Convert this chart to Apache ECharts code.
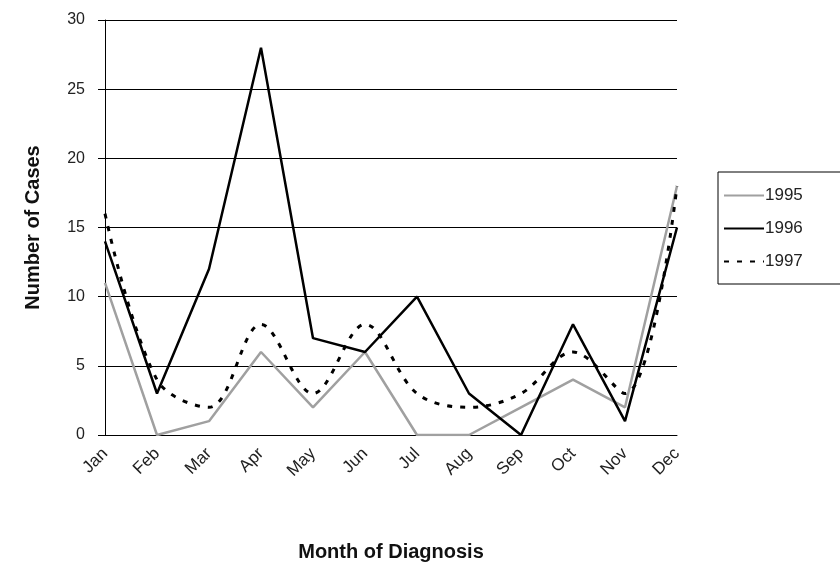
<!DOCTYPE html>
<html>
<head>
<meta charset="utf-8">
<script src="https://cdn.jsdelivr.net/npm/echarts@6/dist/echarts.min.js"></script>
<style>
  html, body { margin: 0; padding: 0; background: #fff; }
  #main { width: 840px; height: 574px; }
</style>
</head>
<body>
<div id="main"></div>
<script>
// data
var months = ['Jan', 'Feb', 'Mar', 'Apr', 'May', 'Jun', 'Jul', 'Aug', 'Sep', 'Oct', 'Nov', 'Dec'];
var cases1995 = [11, 0, 1, 6, 2, 6, 0, 0, 2, 4, 2, 18];
var cases1996 = [14, 3, 12, 28, 7, 6, 10, 3, 0, 8, 1, 15];
var cases1997 = [16, 4, 2, 8, 3, 8, 3, 2, 3, 6, 3, 18];
var yTicks = [0, 5, 10, 15, 20, 25, 30];

var font = '"Liberation Sans", Arial, sans-serif';

var myChart = echarts.init(document.getElementById('main'));
myChart.setOption({
    animation: false,
    textStyle: { fontFamily: font },
    grid: { left: 105, right: 163, top: 20, bottom: 139 },
    legend: {
        orient: 'vertical',
        left: 718,
        top: 172,
        padding: [15, 60, 14, 5],
        itemGap: 16,
        itemWidth: 40,
        itemHeight: 14,
        borderColor: '#000',
        borderWidth: 1,
        itemStyle: { opacity: 0 },
        textStyle: { fontFamily: font, fontSize: 17, color: '#222', padding: [0, 0, 0, -4] },
        data: ['1995', '1996', '1997']
    },
    xAxis: {
        type: 'category',
        data: months,
        boundaryGap: false,
        name: 'Month of Diagnosis',
        nameLocation: 'middle',
        nameGap: 107,
        nameTextStyle: { fontSize: 20, fontWeight: 'bold', color: '#111', fontFamily: font },
        axisLine: { show: true, lineStyle: { color: '#000', width: 1 } },
        axisTick: { show: false },
        axisLabel: { rotate: 45, fontSize: 17, color: '#222', margin: 16, fontFamily: font }
    },
    yAxis: {
        type: 'value',
        min: yTicks[0],
        max: yTicks[yTicks.length - 1],
        interval: 5,
        name: 'Number of Cases',
        nameLocation: 'middle',
        nameGap: 62,
        nameTextStyle: { fontSize: 20, fontWeight: 'bold', color: '#111', fontFamily: font },
        axisLine: { show: true, lineStyle: { color: '#000', width: 1 } },
        axisTick: { show: true, length: 7, lineStyle: { color: '#000' } },
        axisLabel: { fontSize: 16, color: '#222', margin: 20, fontFamily: font },
        splitLine: { show: true, lineStyle: { color: '#000', width: 1.2 } }
    },
    series: [
        {
            name: '1995',
            type: 'line',
            data: cases1995,
            symbol: 'none',
            color: '#a0a0a0',
            lineStyle: { color: '#a0a0a0', width: 2.5 }
        },
        {
            name: '1996',
            type: 'line',
            data: cases1996,
            symbol: 'none',
            color: '#000',
            lineStyle: { color: '#000', width: 2.5 }
        },
        {
            name: '1997',
            type: 'line',
            data: cases1997,
            symbol: 'none',
            smooth: 0.35,
            color: '#000',
            lineStyle: { color: '#000', width: 3, type: [5, 8] }
        }
    ]
});
</script>
</body>
</html>
